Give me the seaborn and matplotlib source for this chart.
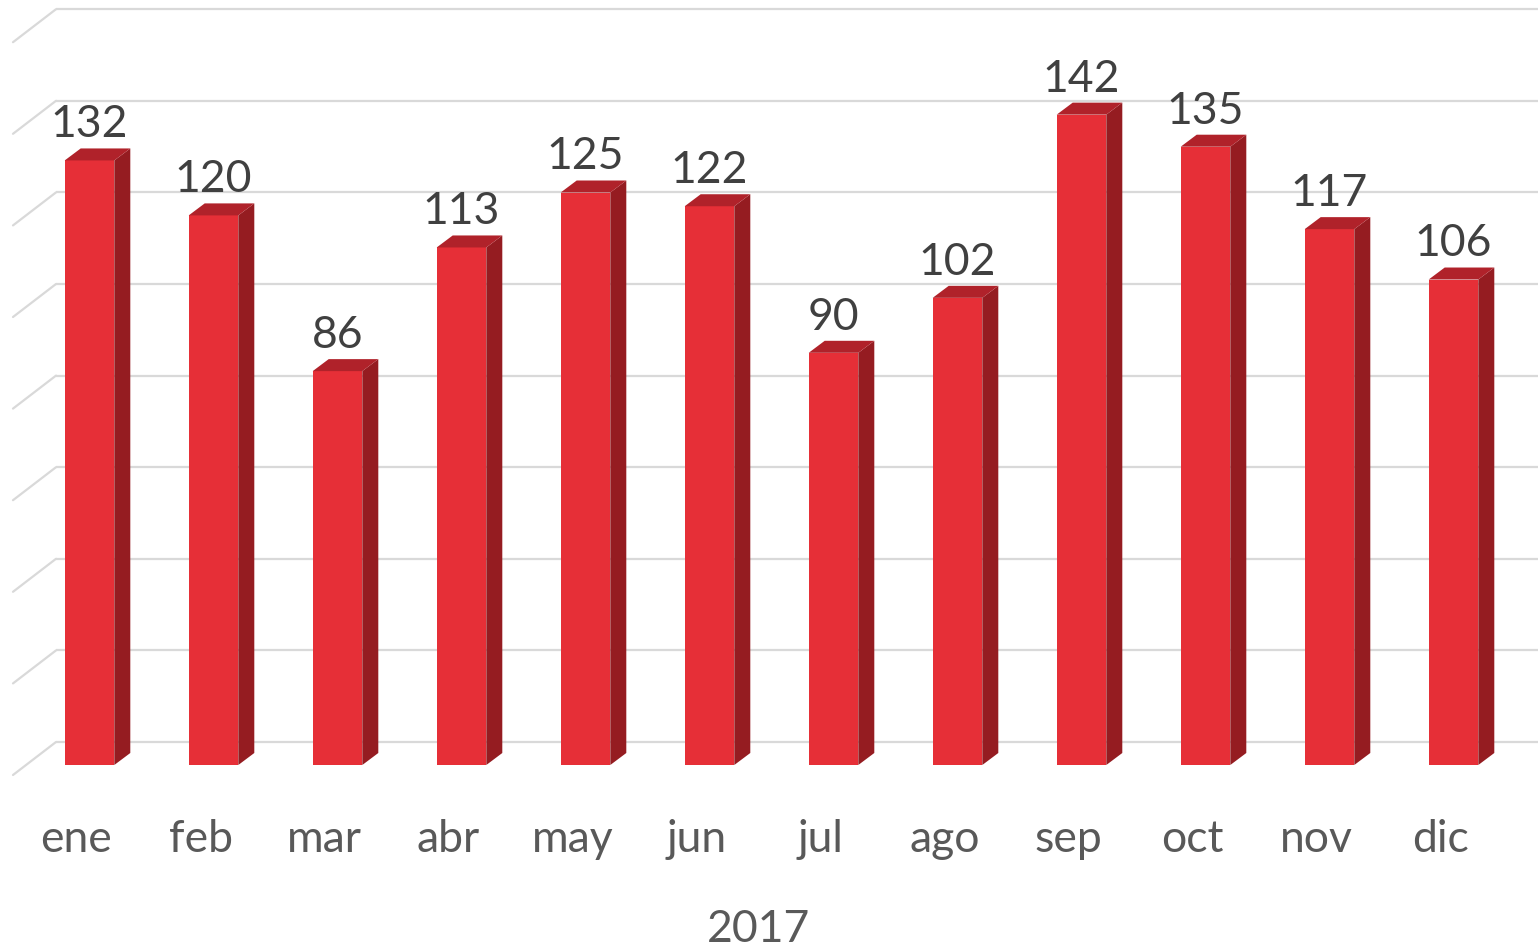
import numpy as np
import pandas as pd
import matplotlib
matplotlib.use("Agg")
import matplotlib.pyplot as plt
from matplotlib.patches import Polygon
from matplotlib.transforms import ScaledTranslation
import seaborn as sns

months = ["ene", "feb", "mar", "abr", "may", "jun", "jul", "ago", "sep", "oct", "nov", "dic"]
values = [132, 120, 86, 113, 125, 122, 90, 102, 142, 135, 117, 106]
grid_values = [0, 20, 40, 60, 80, 100, 120, 140, 160]
xlabel = "2017"

FRONT = "#E62F37"
SIDE = "#951C21"
TOP = "#B0222A"
GRID = "#D9D9D9"

sns.set_theme(style="white")
plt.rcParams["font.family"] = ["Lato", "DejaVu Sans"]

W, H, DPI = 1538, 948, 100
fig = plt.figure(figsize=(W / DPI, H / DPI), dpi=DPI)

# pixel geometry
px_per_cat = 124.0
x0_px = 89.5          # centre of first bar (pixels from left)
base_px = 765.0       # front floor (pixels from top)
k = 4.58              # pixels per unit

ax = fig.add_axes([0, (H - base_px) / H, 1, base_px / H])
xlim = (-x0_px / px_per_cat, (W - x0_px) / px_per_cat)
ylim = (0, base_px / k)

df = pd.DataFrame({"month": months, "value": values})
bw = 0.4
sns.barplot(data=df, x="month", y="value", color=FRONT, saturation=1,
            width=bw, ax=ax, zorder=3, linewidth=0)
ax.set_xlim(*xlim)
ax.set_ylim(*ylim)

# depth of bars
dx = 16 / px_per_cat
dy = 12 / k
# back wall offset
wall_dy = 23 / k
wall_x = (56 - x0_px) / px_per_cat
diag_dx = 43 / px_per_cat
diag_dy = 33 / k

for g in grid_values:
    yb = g + wall_dy
    ax.plot([wall_x, xlim[1]], [yb, yb], color=GRID, lw=1.6, zorder=1,
            clip_on=False, solid_capstyle="butt")
    ax.plot([wall_x - diag_dx, wall_x], [yb - diag_dy, yb], color=GRID, lw=1.6,
            zorder=1, clip_on=False)

for i, v in enumerate(values):
    xl, xr = i - bw / 2, i + bw / 2
    side = Polygon([(xr, 0), (xr + dx, dy), (xr + dx, v + dy), (xr, v)],
                   closed=True, facecolor=SIDE, edgecolor="none", zorder=3, clip_on=False)
    top = Polygon([(xl, v), (xr, v), (xr + dx, v + dy), (xl + dx, v + dy)],
                  closed=True, facecolor=TOP, edgecolor="none", zorder=3, clip_on=False)
    ax.add_patch(side)
    ax.add_patch(top)
    ax.annotate(str(v), xy=(i, v + dy), xytext=(0, 8), textcoords="offset points",
                ha="center", va="baseline", fontsize=32, color="#404040",
                zorder=5, annotation_clip=False)

for s in ax.spines.values():
    s.set_visible(False)
ax.set_yticks([])
ax.set_ylabel("")
ax.tick_params(axis="x", length=0, pad=39, labelsize=32, labelcolor="#595959")
off = ScaledTranslation(-13 / DPI, 0, fig.dpi_scale_trans)
for lbl in ax.get_xticklabels():
    lbl.set_transform(lbl.get_transform() + off)

ax.set_xlabel(xlabel, fontsize=32, color="#595959")
xc = ((len(months) - 1) / 2 - 13 / px_per_cat - xlim[0]) / (xlim[1] - xlim[0])
ax.xaxis.set_label_coords(xc, -(930 - base_px) / base_px)
ax.xaxis.label.set_va("center")

fig.savefig("out.png", dpi=DPI)
